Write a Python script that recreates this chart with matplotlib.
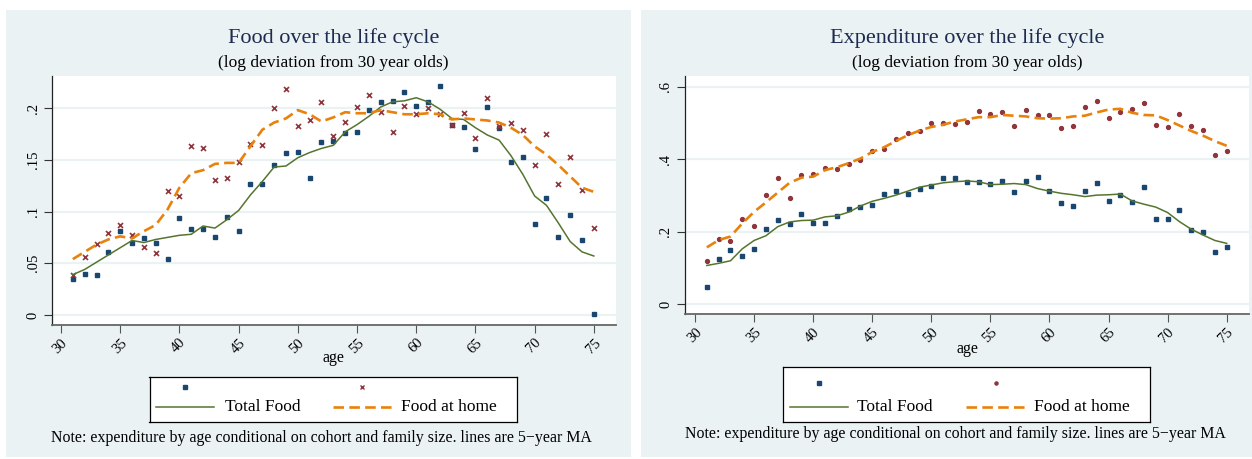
import matplotlib
matplotlib.use("Agg")
import matplotlib.pyplot as plt
from matplotlib.patches import Rectangle

# ---------------- data ----------------
ages = list(range(31, 76))

food_total_pts = [0.035, 0.040, 0.039, 0.061, 0.081, 0.070, 0.074, 0.070, 0.054, 0.094,
                  0.083, 0.083, 0.075, 0.095, 0.081, 0.127, 0.127, 0.145, 0.157, 0.158,
                  0.132, 0.167, 0.168, 0.176, 0.177, 0.198, 0.206, 0.207, 0.216, 0.202,
                  0.206, 0.221, 0.184, 0.182, 0.160, 0.201, 0.181, 0.148, 0.153, 0.088,
                  0.113, 0.075, 0.097, 0.072, 0.001]
food_home_pts = [0.039, 0.056, 0.069, 0.079, 0.087, 0.077, 0.066, 0.060, 0.120, 0.115,
                 0.163, 0.161, 0.130, 0.132, 0.148, 0.165, 0.164, 0.200, 0.218, 0.183,
                 0.188, 0.206, 0.173, 0.187, 0.201, 0.213, 0.196, 0.177, 0.202, 0.194,
                 0.200, 0.194, 0.184, 0.195, 0.171, 0.210, 0.183, 0.186, 0.179, 0.145,
                 0.175, 0.127, 0.153, 0.121, 0.084]
food_total_ma = [0.039, 0.044, 0.051, 0.058, 0.065, 0.072, 0.070, 0.073, 0.075, 0.077,
                 0.078, 0.086, 0.084, 0.092, 0.101, 0.116, 0.129, 0.143, 0.144, 0.152,
                 0.157, 0.161, 0.164, 0.177, 0.184, 0.192, 0.201, 0.206, 0.207, 0.210,
                 0.206, 0.199, 0.190, 0.189, 0.181, 0.174, 0.169, 0.154, 0.136, 0.115,
                 0.106, 0.089, 0.071, 0.061, 0.057]
food_home_ma = [0.054, 0.061, 0.068, 0.073, 0.076, 0.074, 0.081, 0.087, 0.102, 0.123,
                0.137, 0.140, 0.146, 0.147, 0.147, 0.163, 0.179, 0.186, 0.190, 0.198,
                0.194, 0.187, 0.191, 0.196, 0.195, 0.195, 0.198, 0.196, 0.194, 0.194,
                0.195, 0.194, 0.189, 0.190, 0.189, 0.188, 0.186, 0.181, 0.174, 0.163,
                0.155, 0.145, 0.134, 0.123, 0.119]

exp_a_pts = [0.048, 0.124, 0.151, 0.132, 0.153, 0.207, 0.233, 0.221, 0.250, 0.223,
             0.224, 0.243, 0.263, 0.267, 0.273, 0.304, 0.312, 0.305, 0.319, 0.326,
             0.349, 0.348, 0.336, 0.336, 0.331, 0.339, 0.310, 0.340, 0.350, 0.313,
             0.278, 0.271, 0.312, 0.334, 0.286, 0.301, 0.281, 0.323, 0.236, 0.236,
             0.260, 0.204, 0.198, 0.145, 0.159]
exp_b_pts = [0.118, 0.180, 0.175, 0.235, 0.217, 0.300, 0.349, 0.293, 0.356, 0.358,
             0.377, 0.373, 0.387, 0.398, 0.422, 0.428, 0.457, 0.471, 0.477, 0.499,
             0.499, 0.497, 0.504, 0.534, 0.526, 0.529, 0.491, 0.537, 0.523, 0.522,
             0.487, 0.491, 0.544, 0.561, 0.514, 0.531, 0.539, 0.555, 0.495, 0.490,
             0.526, 0.493, 0.481, 0.411, 0.423]
exp_a_ma = [0.107, 0.113, 0.120, 0.153, 0.176, 0.189, 0.214, 0.227, 0.231, 0.232,
            0.241, 0.244, 0.254, 0.271, 0.284, 0.292, 0.301, 0.312, 0.323, 0.329,
            0.335, 0.338, 0.340, 0.338, 0.330, 0.331, 0.333, 0.330, 0.319, 0.312,
            0.306, 0.302, 0.297, 0.301, 0.302, 0.304, 0.285, 0.276, 0.268, 0.253,
            0.228, 0.207, 0.191, 0.176, 0.168]
exp_b_ma = [0.157, 0.177, 0.187, 0.223, 0.255, 0.281, 0.308, 0.335, 0.349, 0.352,
            0.370, 0.378, 0.389, 0.402, 0.420, 0.433, 0.450, 0.466, 0.479, 0.489,
            0.495, 0.504, 0.510, 0.516, 0.516, 0.522, 0.520, 0.518, 0.513, 0.512,
            0.513, 0.518, 0.520, 0.529, 0.537, 0.539, 0.528, 0.522, 0.521, 0.508,
            0.493, 0.478, 0.465, 0.450, 0.437]

x_ticks = [30, 35, 40, 45, 50, 55, 60, 65, 70, 75]
left_yticks = [0, 0.05, 0.10, 0.15, 0.20]
left_ylabels = ["0", ".05", ".1", ".15", ".2"]
right_yticks = [0, 0.2, 0.4, 0.6]
right_ylabels = ["0", ".2", ".4", ".6"]

titles = ["Food over the life cycle", "Expenditure over the life cycle"]
subtitle = "(log deviation from 30 year olds)"
labels = ["Total Food", "Food at home"]
note = "Note: expenditure by age conditional on cohort and family size. lines are 5\u2212year MA"

# ---------------- style ----------------
W, H = 1252, 459
SERIF = ["Liberation Serif", "DejaVu Serif"]
plt.rcParams["font.family"] = SERIF
BG = "#eaf2f3"
NAVY = "#1a476f"
MAROON = "#90353b"
GREEN = "#55752f"
ORANGE = "#e8820c"
TITLE_C = "#1e2b50"
TICK_FS = 10.5

fig = plt.figure(figsize=(W / 100, H / 100), dpi=100)


def fx(x):
    return x / W


def fy(y):
    return 1 - y / H


def rect_px(x0, y0, x1, y1):
    return [fx(x0), fy(y1), fx(x1) - fx(x0), fy(y0) - fy(y1)]


# panel backgrounds
for (x0, x1) in [(6, 631.5), (641, 1252)]:
    fig.add_artist(Rectangle((fx(x0), fy(456.5)), fx(x1) - fx(x0), fy(10) - fy(456.5),
                             transform=fig.transFigure, facecolor=BG, edgecolor="none",
                             zorder=-10))


def make_panel(box, xlim, ylim, yticks, ylabels, pts_a, pts_b, ma_a, ma_b,
               marker_b, ms_b, title, cx, agey):
    ax = fig.add_axes(rect_px(*box))
    ax.set_facecolor("white")
    ax.set_xlim(*xlim)
    ax.set_ylim(*ylim)
    ax.set_yticks(yticks)
    ax.set_yticklabels(ylabels, rotation=90, va="center", fontsize=TICK_FS)
    ax.set_xticks(x_ticks)
    ax.set_xticklabels([str(t) for t in x_ticks], rotation=45, ha="right", va="top",
                       rotation_mode="anchor", fontsize=TICK_FS)
    ax.tick_params(axis="y", length=6, width=0.8, color="#333333", pad=3)
    ax.tick_params(axis="x", length=6, width=0.8, color="#555555", pad=2)
    ax.yaxis.grid(True, color=BG, lw=1.6)
    ax.set_axisbelow(True)
    for s in ["top", "right"]:
        ax.spines[s].set_visible(False)
    ax.spines["left"].set_color("#222222")
    ax.spines["left"].set_linewidth(0.9)
    ax.spines["bottom"].set_color("#666666")
    ax.spines["bottom"].set_linewidth(1.3)

    ax.plot(ages, pts_a, linestyle="none", marker="s", ms=3.2, color=NAVY, mec=NAVY, zorder=3)
    if marker_b == "x":
        ax.plot(ages, pts_b, linestyle="none", marker="x", ms=ms_b, color=MAROON,
                mew=1.2, zorder=3)
    else:
        ax.plot(ages, pts_b, linestyle="none", marker=marker_b, ms=ms_b, color=MAROON,
                mec=MAROON, zorder=3)
    ax.plot(ages, ma_a, color=GREEN, lw=1.1, zorder=4)
    ax.plot(ages, ma_b, color=ORANGE, lw=1.9, dashes=(4, 2), zorder=4)

    fig.text(fx(cx), fy(38), title, ha="center", va="center", fontsize=16, color=TITLE_C)
    fig.text(fx(cx), fy(63), subtitle, ha="center", va="center", fontsize=12.5, color="black")
    fig.text(fx(cx), fy(agey), "age", ha="center", va="center", fontsize=11.5, color="black")
    return ax


axL = make_panel((52, 76, 615.5, 325), (29.24, 76.83), (-0.0097, 0.231),
                 left_yticks, left_ylabels, food_total_pts, food_home_pts,
                 food_total_ma, food_home_ma, "x", 3.6, titles[0], 333.7, 358)
axR = make_panel((685, 76, 1249, 314.3), (29.15, 76.89), (-0.0276, 0.6295),
                 right_yticks, right_ylabels, exp_a_pts, exp_b_pts,
                 exp_a_ma, exp_b_ma, "o", 2.8, titles[1], 967, 349)


def make_legend(box, row1, row2, keys, marker_b, ms_b, note_xy):
    x0, y0, x1, y1 = box
    lg = fig.add_axes(rect_px(x0, y0, x1, y1))
    lg.set_xlim(x0, x1)
    lg.set_ylim(y1, y0)
    lg.set_xticks([])
    lg.set_yticks([])
    lg.set_facecolor("white")
    for s in lg.spines.values():
        s.set_color("black")
        s.set_linewidth(0.9)
    (ga, gb, ta), (oa, ob, tb) = keys
    lg.plot([(ga + gb) / 2], [row1], marker="s", ms=2.6, color=NAVY, linestyle="none")
    if marker_b == "x":
        lg.plot([(oa + ob) / 2], [row1], marker="x", ms=ms_b * 0.8, mew=1.0, color=MAROON,
                linestyle="none")
    else:
        lg.plot([(oa + ob) / 2], [row1], marker=marker_b, ms=ms_b * 0.8, color=MAROON,
                linestyle="none")
    lg.plot([ga, gb], [row2, row2], color=GREEN, lw=1.1)
    lg.plot([oa, ob], [row2, row2], color=ORANGE, lw=1.9, dashes=(4, 2))
    lg.text(ta, row2, labels[0], ha="left", va="center", fontsize=12.5)
    lg.text(tb, row2, labels[1], ha="left", va="center", fontsize=12.5)
    fig.text(fx(note_xy[0]), fy(note_xy[1]), note, ha="center", va="center", fontsize=11.4)


make_legend((149.5, 377, 517, 422), 387, 407,
            ((156, 214, 225), (333, 392, 400.6)), "x", 3.6, (321, 438))
make_legend((783, 367, 1150, 422), 383, 407,
            ((790, 848, 857), (966, 1025, 1034)), "o", 2.8, (955, 434))

fig.savefig("out.png", dpi=100, facecolor="white")
